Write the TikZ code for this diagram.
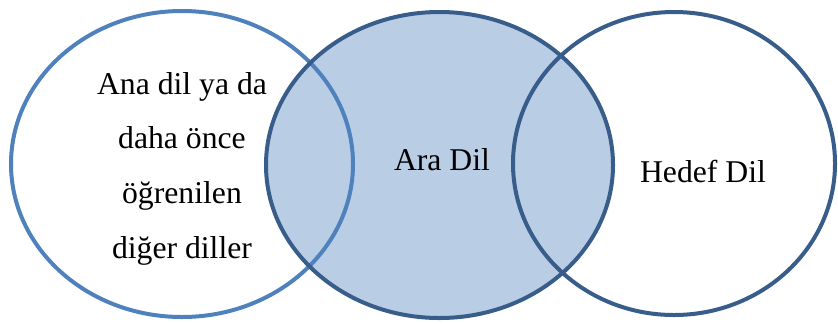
\documentclass[tikz,border=0pt]{standalone}
\usepackage{fontspec}
\setmainfont{Liberation Serif}
\definecolor{lblue}{RGB}{79,129,189}
\definecolor{dblue}{RGB}{56,93,138}
\definecolor{fblue}{RGB}{185,205,229}
\begin{document}
\begin{tikzpicture}[x=0.5pt,y=-0.5pt,
  ring/.style={line width=2pt},
  lbl/.style={font=\fontsize{15.85pt}{27.3pt}\selectfont, align=center, inner sep=0pt}]
\useasboundingbox (0,0) rectangle (838,323);
\fill[fblue] (439.5,165) ellipse [x radius=86.75pt, y radius=76.5pt];
\draw[ring, lblue] (182,164) ellipse [x radius=85.5pt, y radius=76.5pt];
\draw[ring, dblue] (439.5,165) ellipse [x radius=86.75pt, y radius=76.5pt];
\draw[ring, dblue] (674,163.5) ellipse [x radius=80.5pt, y radius=75.75pt];
\node[lbl, anchor=base] (ana) at (182,258) {Ana dil ya da\\daha önce\\öğrenilen\\diğer diller};
\node[lbl, anchor=base] (ara) at (442,170) {Ara Dil};
\node[lbl, anchor=base] (hedef) at (703,182) {Hedef Dil};
\end{tikzpicture}
\end{document}
